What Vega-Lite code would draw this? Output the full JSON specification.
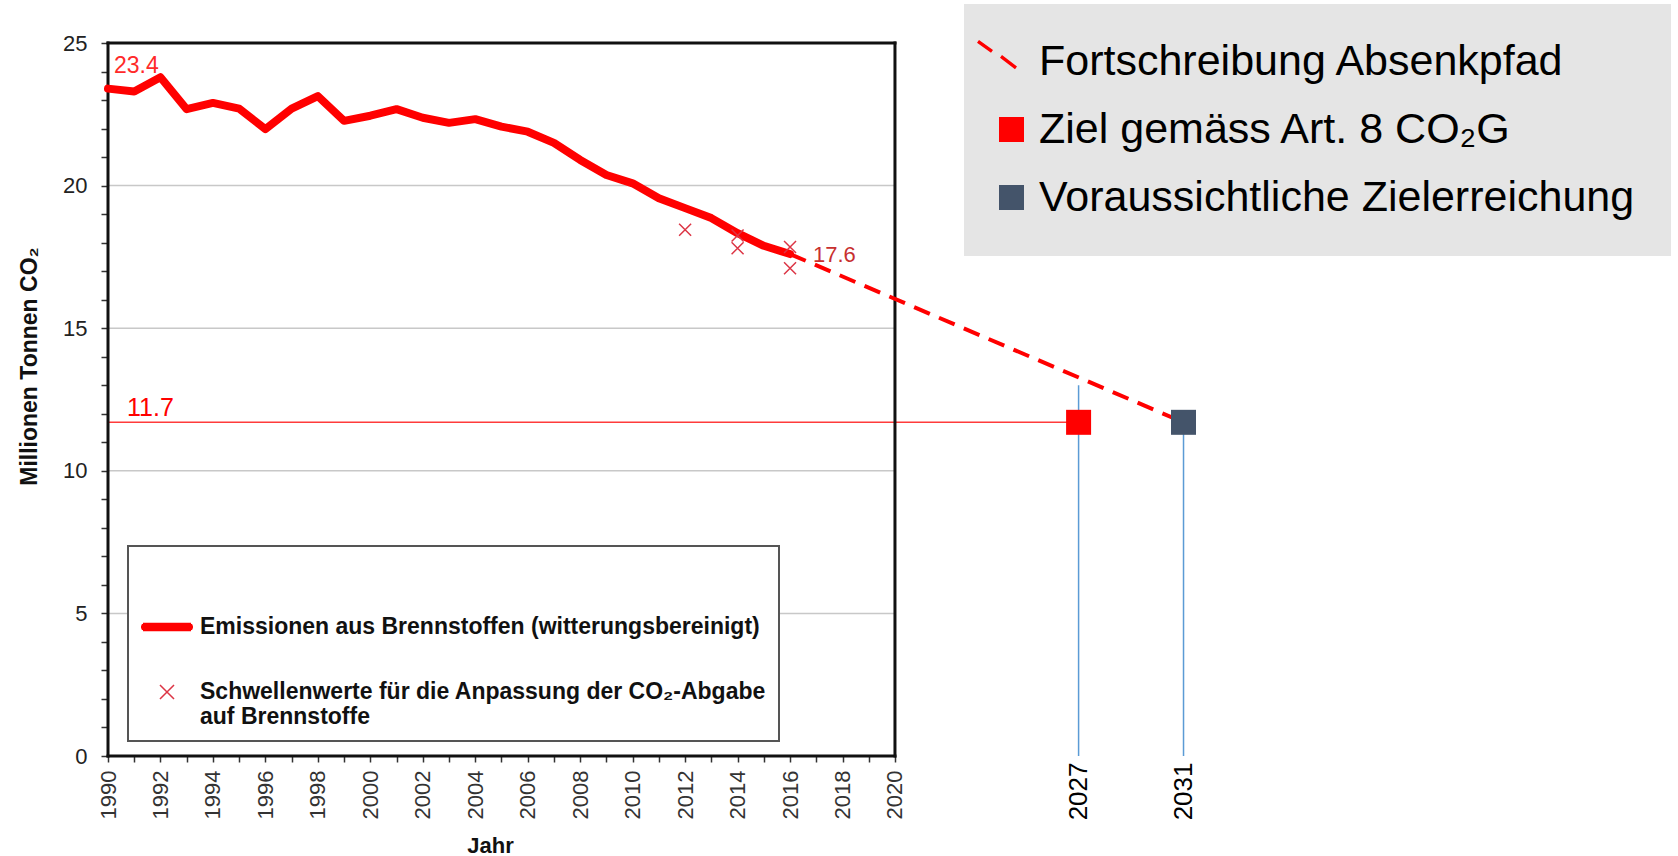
{
  "$schema": "https://vega.github.io/schema/vega-lite/v6.json",
  "autosize": {"type": "none"},
  "padding": {"left": 108, "top": 43, "right": 0, "bottom": 100},
  "width": 1570,
  "height": 713,
  "background": "white",
  "config": {"view": {"stroke": null}, "font": "Liberation Sans", "legend": {"strokeWidth": 2}},
  "resolve": {"scale": {"color": "independent", "fill": "independent", "shape": "independent"}},
  "datasets": {
    "emis": [
      {"Jahr": 1990, "Wert": 23.4}, {"Jahr": 1991, "Wert": 23.3}, {"Jahr": 1992, "Wert": 23.8},
      {"Jahr": 1993, "Wert": 22.68}, {"Jahr": 1994, "Wert": 22.9}, {"Jahr": 1995, "Wert": 22.7},
      {"Jahr": 1996, "Wert": 21.98}, {"Jahr": 1997, "Wert": 22.7}, {"Jahr": 1998, "Wert": 23.14},
      {"Jahr": 1999, "Wert": 22.27}, {"Jahr": 2000, "Wert": 22.45}, {"Jahr": 2001, "Wert": 22.68},
      {"Jahr": 2002, "Wert": 22.38}, {"Jahr": 2003, "Wert": 22.2}, {"Jahr": 2004, "Wert": 22.33},
      {"Jahr": 2005, "Wert": 22.07}, {"Jahr": 2006, "Wert": 21.89}, {"Jahr": 2007, "Wert": 21.5},
      {"Jahr": 2008, "Wert": 20.9}, {"Jahr": 2009, "Wert": 20.37}, {"Jahr": 2010, "Wert": 20.08},
      {"Jahr": 2011, "Wert": 19.56}, {"Jahr": 2012, "Wert": 19.21}, {"Jahr": 2013, "Wert": 18.86},
      {"Jahr": 2014, "Wert": 18.33}, {"Jahr": 2015, "Wert": 17.89}, {"Jahr": 2016, "Wert": 17.6}
    ],
    "schwelle": [
      {"Jahr": 2012, "Wert": 18.45, "reihe": "Schwellenwerte für die Anpassung der CO₂-Abgabe auf Brennstoffe"},
      {"Jahr": 2014, "Wert": 18.25, "reihe": "Schwellenwerte für die Anpassung der CO₂-Abgabe auf Brennstoffe"},
      {"Jahr": 2014, "Wert": 17.8, "reihe": "Schwellenwerte für die Anpassung der CO₂-Abgabe auf Brennstoffe"},
      {"Jahr": 2016, "Wert": 17.85, "reihe": "Schwellenwerte für die Anpassung der CO₂-Abgabe auf Brennstoffe"},
      {"Jahr": 2016, "Wert": 17.1, "reihe": "Schwellenwerte für die Anpassung der CO₂-Abgabe auf Brennstoffe"}
    ],
    "pfad": [
      {"Jahr": 2016, "Wert": 17.6},
      {"Jahr": 2031, "Wert": 11.7}
    ],
    "ziel": [
      {"Jahr": 2027, "Wert": 11.7, "serie": "Ziel gemäss Art. 8 CO₂G"},
      {"Jahr": 2031, "Wert": 11.7, "serie": "Voraussichtliche Zielerreichung"}
    ],
    "senkrecht": [
      {"Jahr": 2027, "Jahr2": 2027, "Wert": 0, "Wert2": 13.0},
      {"Jahr": 2031, "Jahr2": 2031, "Wert": 0, "Wert2": 11.7}
    ],
    "zielwert": [
      {"Jahr": 1990, "Jahr2": 2027, "Wert": 11.7, "Wert2": 11.7}
    ],
    "gitter": [
      {"Jahr": 1990, "Jahr2": 2020, "Wert": 5, "Wert2": 5},
      {"Jahr": 1990, "Jahr2": 2020, "Wert": 10, "Wert2": 10},
      {"Jahr": 1990, "Jahr2": 2020, "Wert": 15, "Wert2": 15},
      {"Jahr": 1990, "Jahr2": 2020, "Wert": 20, "Wert2": 20}
    ],
    "rahmen": [
      {"Jahr": 1990, "Jahr2": 2020, "Wert": 0, "Wert2": 0},
      {"Jahr": 1990, "Jahr2": 2020, "Wert": 25, "Wert2": 25},
      {"Jahr": 1990, "Jahr2": 1990, "Wert": 0, "Wert2": 25},
      {"Jahr": 2020, "Jahr2": 2020, "Wert": 0, "Wert2": 25}
    ],
    "beschriftung": [
      {"Jahr": 1990, "Wert": 23.4, "text": "23.4"},
      {"Jahr": 2016, "Wert": 17.6, "text": "17.6"},
      {"Jahr": 1990, "Wert": 11.7, "text": "11.7"}
    ]
  },
  "encoding": {
    "x": {
      "field": "Jahr", "type": "quantitative",
      "scale": {"domain": [1990, 2049.85], "nice": false, "zero": false},
      "axis": {
        "values": [1990, 1991, 1992, 1993, 1994, 1995, 1996, 1997, 1998, 1999, 2000, 2001, 2002, 2003, 2004, 2005, 2006, 2007, 2008, 2009, 2010, 2011, 2012, 2013, 2014, 2015, 2016, 2017, 2018, 2019, 2020, 2027, 2031],
        "format": "d",
        "labelExpr": "(datum.value > 2020 || datum.value % 2 == 0) ? datum.label : ''",
        "labelAngle": 270,
        "labelFont": "Liberation Sans",
        "labelFontSize": {"condition": {"test": "datum.value > 2020", "value": 26}, "value": 22},
        "labelColor": {"condition": {"test": "datum.value > 2020", "value": "#000000"}, "value": "#333333"},
        "labelPadding": {"condition": {"test": "datum.value > 2020", "value": 0}, "value": 8},
        "tickColor": {"condition": {"test": "datum.value > 2020", "value": "transparent"}, "value": "#333333"},
        "tickSize": 6,
        "tickWidth": 1.5,
        "labelOverlap": false,
        "labelFlush": false,
        "labelBound": false,
        "domain": false,
        "grid": false,
        "orient": "bottom",
        "title": "Jahr",
        "titleFont": "Liberation Sans",
        "titleFontSize": 22,
        "titleFontWeight": "bold",
        "titleColor": "#111111",
        "titleX": 382,
        "titleY": 96,
        "titleAlign": "center",
        "titleBaseline": "alphabetic"
      }
    },
    "y": {
      "field": "Wert", "type": "quantitative",
      "scale": {"domain": [0, 25], "nice": false},
      "axis": {
        "values": [0, 1, 2, 3, 4, 5, 6, 7, 8, 9, 10, 11, 12, 13, 14, 15, 16, 17, 18, 19, 20, 21, 22, 23, 24, 25],
        "labelExpr": "datum.value % 5 == 0 ? datum.label : ''",
        "labelFont": "Liberation Sans",
        "labelFontSize": 22,
        "labelColor": "#222222",
        "labelPadding": 14,
        "tickSize": 7,
        "tickWidth": 1.5,
        "tickColor": "#333333",
        "labelOverlap": false,
        "labelFlush": false,
        "domain": false,
        "grid": false,
        "orient": "left",
        "title": "Millionen Tonnen CO₂",
        "titleFont": "Liberation Sans",
        "titleFontSize": 23,
        "titleFontWeight": "bold",
        "titleColor": "#111111",
        "titleAngle": 270,
        "titleX": -79,
        "titleY": 323,
        "titleAlign": "center",
        "titleBaseline": "middle"
      }
    }
  },
  "layer": [
    {
      "data": {"name": "gitter"},
      "mark": {"type": "rule", "color": "#c8c8c8", "strokeWidth": 1.5},
      "encoding": {"x2": {"field": "Jahr2"}, "y2": {"field": "Wert2"}}
    },
    {
      "data": {"name": "zielwert"},
      "mark": {"type": "rule", "color": "#ff3b3b", "strokeWidth": 1.5},
      "encoding": {"x2": {"field": "Jahr2"}, "y2": {"field": "Wert2"}}
    },
    {
      "data": {"name": "senkrecht"},
      "mark": {"type": "rule", "color": "#5b9bd5", "strokeWidth": 1.5},
      "encoding": {"x2": {"field": "Jahr2"}, "y2": {"field": "Wert2"}}
    },
    {
      "data": {"name": "rahmen"},
      "mark": {"type": "rule", "color": "#111111", "strokeWidth": 3, "strokeCap": "square"},
      "encoding": {"x2": {"field": "Jahr2"}, "y2": {"field": "Wert2"}}
    },
    {
      "data": {"name": "pfad"},
      "mark": {"type": "line", "color": "#ff0000", "strokeWidth": 4, "strokeDash": [17, 10]},
      "encoding": {}
    },
    {
      "data": {"name": "emis"},
      "mark": {"type": "line", "color": "#ff0000", "strokeWidth": 8, "strokeCap": "round", "strokeJoin": "round"},
      "encoding": {}
    },
    {
      "data": {"name": "schwelle"},
      "mark": {"type": "point", "filled": false, "size": 1975, "strokeWidth": 1.5, "opacity": 1},
      "encoding": {
        "color": {
          "field": "reihe", "type": "nominal",
          "scale": {
            "domain": ["Emissionen aus Brennstoffen (witterungsbereinigt)", "Schwellenwerte für die Anpassung der CO₂-Abgabe auf Brennstoffe"],
            "range": ["#ff0000", "#dc3545"]
          },
          "legend": {
            "orient": "none",
            "legendX": 20,
            "legendY": 503,
            "direction": "vertical",
            "title": " ",
            "titleFontSize": 12,
            "titlePadding": 30,
            "fillColor": "#ffffff",
            "strokeColor": "#555555",
            "padding": 12,
            "symbolSize": 2704,
            "symbolStrokeWidth": 1.5,
            "labelOffset": 6,
            "rowPadding": 26,
            "labelFont": "Liberation Sans",
            "labelFontSize": 23,
            "labelFontWeight": "bold",
            "labelColor": "#111111",
            "labelLimit": 0,
            "labelExpr": "indexof(datum.label, 'Schwellen') == 0 ? ['Schwellenwerte für die Anpassung der CO₂-Abgabe', 'auf Brennstoffe'] : datum.label"
          }
        },
        "shape": {
          "field": "reihe", "type": "nominal",
          "scale": {
            "domain": ["Emissionen aus Brennstoffen (witterungsbereinigt)", "Schwellenwerte für die Anpassung der CO₂-Abgabe auf Brennstoffe"],
            "range": [
              "M-0.925,-0.13L0.925,-0.13M-0.972,-0.087L0.972,-0.087M-0.994,-0.043L0.994,-0.043M-1,0L1,0M-0.994,0.043L0.994,0.043M-0.972,0.087L0.972,0.087M-0.925,0.13L0.925,0.13",
              "M-0.27,-0.27L0.27,0.27M-0.27,0.27L0.27,-0.27"
            ]
          },
          "legend": {
            "orient": "none",
            "legendX": 20,
            "legendY": 503,
            "direction": "vertical",
            "title": " ",
            "titleFontSize": 12,
            "titlePadding": 30,
            "fillColor": "#ffffff",
            "strokeColor": "#555555",
            "padding": 12,
            "symbolSize": 2704,
            "symbolStrokeWidth": 1.5,
            "labelOffset": 6,
            "rowPadding": 26,
            "labelFont": "Liberation Sans",
            "labelFontSize": 23,
            "labelFontWeight": "bold",
            "labelColor": "#111111",
            "labelLimit": 0,
            "labelExpr": "indexof(datum.label, 'Schwellen') == 0 ? ['Schwellenwerte für die Anpassung der CO₂-Abgabe', 'auf Brennstoffe'] : datum.label"
          }
        }
      }
    },
    {
      "data": {"name": "ziel"},
      "mark": {"type": "point", "filled": true, "size": 625, "opacity": 1},
      "encoding": {
        "fill": {
          "field": "serie", "type": "nominal",
          "scale": {
            "domain": ["Fortschreibung Absenkpfad", "Ziel gemäss Art. 8 CO₂G", "Voraussichtliche Zielerreichung"],
            "range": ["#ff0000", "#ff0000", "#44546a"]
          },
          "legend": {
            "orient": "none",
            "legendX": 856,
            "legendY": -39,
            "direction": "vertical",
            "title": null,
            "fillColor": "#e5e5e5",
            "padding": 36,
            "symbolSize": 625,
            "symbolStrokeWidth": 0,
            "symbolOffset": -10,
            "labelOffset": 6,
            "rowPadding": 24,
            "labelFont": "Liberation Sans",
            "labelFontSize": 43,
            "labelColor": "#000000",
            "labelLimit": 0
          }
        },
        "shape": {
          "field": "serie", "type": "nominal",
          "scale": {
            "domain": ["Fortschreibung Absenkpfad", "Ziel gemäss Art. 8 CO₂G", "Voraussichtliche Zielerreichung"],
            "range": ["M-2.76,-1.51L-1.64,-0.71L-1.48,-0.93L-2.6,-1.73Z M-0.92,-0.31L0.28,0.61L0.44,0.39L-0.76,-0.53Z", "square", "square"]
          },
          "legend": {
            "orient": "none",
            "legendX": 856,
            "legendY": -39,
            "direction": "vertical",
            "title": null,
            "fillColor": "#e5e5e5",
            "padding": 36,
            "symbolSize": 625,
            "symbolStrokeWidth": 0,
            "symbolOffset": -10,
            "labelOffset": 6,
            "rowPadding": 24,
            "labelFont": "Liberation Sans",
            "labelFontSize": 43,
            "labelColor": "#000000",
            "labelLimit": 0
          }
        }
      }
    },
    {
      "data": {"name": "beschriftung"},
      "transform": [{"filter": "datum.text == '23.4'"}],
      "mark": {"type": "text", "align": "left", "baseline": "alphabetic", "dx": 6, "dy": -16, "fontSize": 23, "color": "#ff2a2a", "font": "Liberation Sans"},
      "encoding": {"text": {"field": "text"}}
    },
    {
      "data": {"name": "beschriftung"},
      "transform": [{"filter": "datum.text == '17.6'"}],
      "mark": {"type": "text", "align": "left", "baseline": "alphabetic", "dx": 23, "dy": 8, "fontSize": 22, "color": "#c8302f", "font": "Liberation Sans"},
      "encoding": {"text": {"field": "text"}}
    },
    {
      "data": {"name": "beschriftung"},
      "transform": [{"filter": "datum.text == '11.7'"}],
      "mark": {"type": "text", "align": "left", "baseline": "alphabetic", "dx": 19, "dy": -6, "fontSize": 25, "color": "#ff0000", "font": "Liberation Sans"},
      "encoding": {"text": {"field": "text"}}
    }
  ]
}
